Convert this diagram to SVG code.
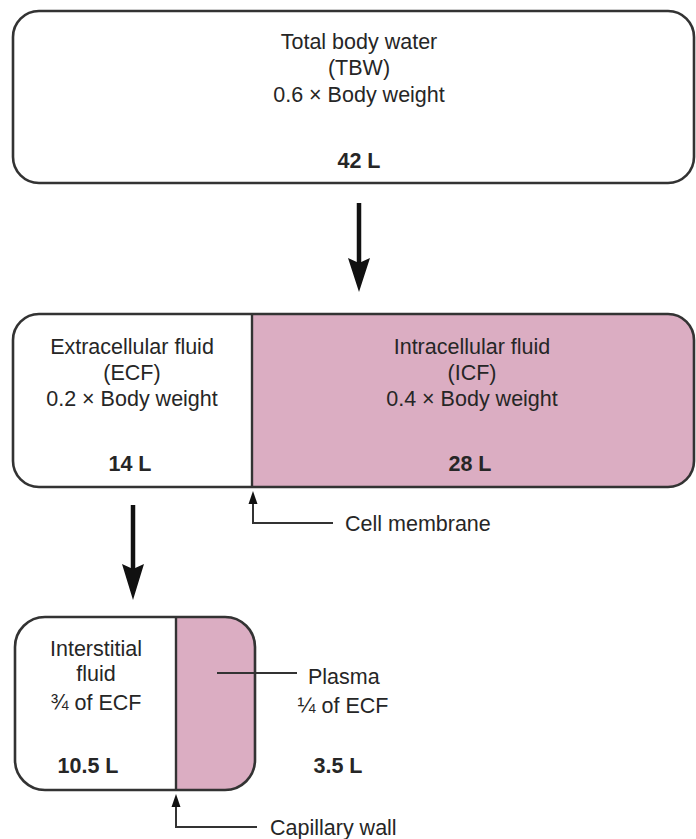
<svg xmlns="http://www.w3.org/2000/svg" width="696" height="839" viewBox="0 0 696 839">
<style>
text{font-family:"Liberation Sans",Arial,sans-serif;font-size:21.5px;fill:#262626}
.c{text-anchor:middle}
.b{font-weight:bold}
.box{fill:none;stroke:#333;stroke-width:2.6}
.pink{fill:#dbadc2;stroke:none}
.div{stroke:#333;stroke-width:2.4}
.arrow{stroke:#111;stroke-width:4.5;fill:none}
.head{fill:#111}
.thin{stroke:#333;stroke-width:2;fill:none}
</style>
<g id="tbw">
<rect class="box" x="13" y="11" width="681" height="172" rx="26" fill="#fff"/>
<text class="c" x="359" y="49">Total body water</text>
<text class="c" x="359" y="75">(TBW)</text>
<text class="c" x="359" y="102">0.6 × Body weight</text>
<text class="c b" x="359" y="168">42 L</text>
</g>
<g id="ecf-icf">
<path class="pink" d="M252,314 H668 A26,26 0 0 1 694,340 V461 A26,26 0 0 1 668,487 H252 Z"/>
<rect class="box" x="13" y="314" width="681" height="173" rx="26"/>
<line class="div" x1="252" y1="314" x2="252" y2="487"/>
<g id="ecf">
<text class="c" x="132" y="354">Extracellular fluid</text>
<text class="c" x="132" y="380">(ECF)</text>
<text class="c" x="132" y="406">0.2 × Body weight</text>
<text class="c b" x="130" y="471">14 L</text>
</g>
<g id="icf">
<text class="c" x="472" y="354">Intracellular fluid</text>
<text class="c" x="472" y="380">(ICF)</text>
<text class="c" x="472" y="406">0.4 × Body weight</text>
<text class="c b" x="470" y="471">28 L</text>
</g>
</g>
<g id="interstitial-plasma">
<path class="pink" d="M176,617 H225 A30,30 0 0 1 255,647 V760 A30,30 0 0 1 225,790 H176 Z"/>
<rect class="box" x="15" y="617" width="240" height="173" rx="30"/>
<line class="div" x1="176" y1="617" x2="176" y2="790"/>
<g id="interstitial">
<text class="c" x="96" y="656">Interstitial</text>
<text class="c" x="96" y="681">fluid</text>
<text class="c" x="96" y="710">¾ of ECF</text>
<text class="c b" x="88" y="773">10.5 L</text>
</g>
<g id="plasma">
<text x="308" y="684">Plasma</text>
<text class="c" x="343" y="713">¼ of ECF</text>
<text class="c b" x="338" y="773">3.5 L</text>
</g>
</g>
<g id="labels">
<text x="345" y="531">Cell membrane</text>
<text x="270" y="835">Capillary wall</text>
</g>
<g id="connectors">
<line class="arrow" x1="359" y1="203" x2="359" y2="264"/>
<path class="head" d="M348,258 L359,263 L370,258 L359,292 Z"/>
<line class="arrow" x1="133" y1="505" x2="133" y2="570"/>
<path class="head" d="M122,564 L133,569 L144,564 L133,600 Z"/>
<polyline class="thin" points="333,523 253,523 253,500"/>
<path class="head" d="M253,491 L257.5,504 L248.5,504 Z"/>
<line class="thin" x1="217" y1="673" x2="297" y2="673"/>
<polyline class="thin" points="257,827 176,827 176,802"/>
<path class="head" d="M176,794 L180.5,807 L171.5,807 Z"/>
</g>
</svg>
